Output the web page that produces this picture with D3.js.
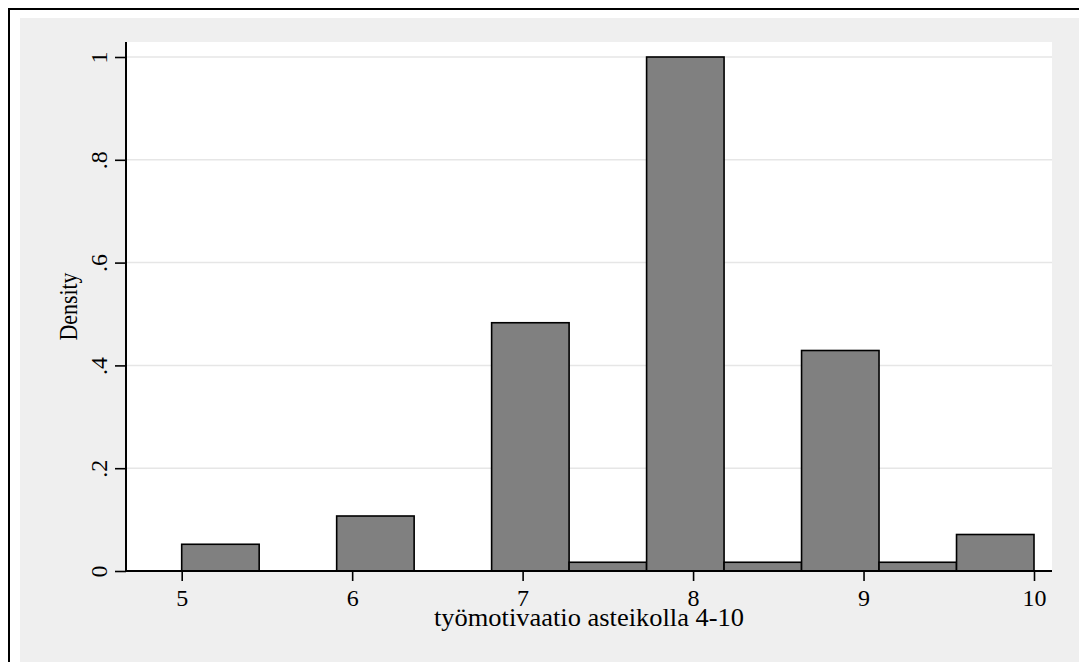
<!DOCTYPE html>
<html>
<head>
<meta charset="utf-8">
<script src="https://cdn.jsdelivr.net/npm/d3@7"></script>
<style>
  body { margin: 0; background: #fff; }
  text { font-family: "Liberation Serif", "DejaVu Serif", serif; fill: #000; }
</style>
</head>
<body>
<div class="chart"></div>
<script>
// histogram bins (lower edge, upper edge) and density per bin
var binLow  = [5, 5.4545, 5.9091, 6.3636, 6.8182, 7.2727, 7.7273, 8.1818, 8.6364, 9.0909, 9.5455];
var binHigh = [5.4545, 5.9091, 6.3636, 6.8182, 7.2727, 7.7273, 8.1818, 8.6364, 9.0909, 9.5455, 10];
var density = [0.052, 0, 0.107, 0, 0.483, 0.017, 1.0, 0.017, 0.429, 0.017, 0.071];

var xTicks = [5, 6, 7, 8, 9, 10];
var yTicks = [0, 0.2, 0.4, 0.6, 0.8, 1];
var xTitle = "työmotivaatio asteikolla 4-10";
var yTitle = "Density";

var W = 1079, H = 662;
var plot = { left: 126, right: 1052, top: 42, bottom: 571 };
var tickFont = 24, titleFont = 25;

var xScale = d3.scaleLinear().domain([5, 10]).range([181.7, 1034]);
var yScale = d3.scaleLinear().domain([0, 1]).range([plot.bottom, 57]);

var svg = d3.select(".chart").append("svg")
    .attr("width", W)
    .attr("height", H);

// outer frame (only left/top visible) and grey background
svg.append("rect").attr("x", 0).attr("y", 0).attr("width", W).attr("height", H).attr("fill", "#fff");
svg.append("rect").attr("x", 9).attr("y", 9).attr("width", W + 20).attr("height", H + 20)
    .attr("fill", "none").attr("stroke", "#000").attr("stroke-width", 2);
svg.append("rect").attr("x", 20).attr("y", 18).attr("width", W).attr("height", H).attr("fill", "#efefef");

// plot region
svg.append("rect")
    .attr("x", plot.left).attr("y", plot.top)
    .attr("width", plot.right - plot.left).attr("height", plot.bottom - plot.top)
    .attr("fill", "#fff");

// grid lines
svg.selectAll(".grid")
    .data(yTicks.filter(function(d) { return d > 0; }))
    .enter().append("line")
    .attr("class", "grid")
    .attr("x1", plot.left).attr("x2", plot.right)
    .attr("y1", function(d) { return yScale(d); })
    .attr("y2", function(d) { return yScale(d); })
    .attr("stroke", "#e6e6e6").attr("stroke-width", 1.5);

// bars
var bins = density.map(function(d, i) { return { lo: binLow[i], hi: binHigh[i], v: d }; });
svg.selectAll(".bar")
    .data(bins.filter(function(d) { return d.v > 0; }))
    .enter().append("rect")
    .attr("class", "bar")
    .attr("x", function(d) { return xScale(d.lo); })
    .attr("width", function(d) { return xScale(d.hi) - xScale(d.lo); })
    .attr("y", function(d) { return yScale(d.v); })
    .attr("height", function(d) { return yScale(0) - yScale(d.v); })
    .attr("fill", "#808080")
    .attr("stroke", "#000")
    .attr("stroke-width", 1.6);

// x axis
var xAxis = svg.append("g")
    .attr("transform", "translate(0," + plot.bottom + ")")
    .call(d3.axisBottom(xScale).tickValues(xTicks).tickSize(10).tickPadding(8).tickFormat(d3.format("d")));
xAxis.select(".domain").remove();
xAxis.selectAll("line").attr("stroke", "#000").attr("stroke-width", 1.6);
xAxis.selectAll("text").attr("font-size", tickFont).attr("dy", "0.71em");
svg.append("line")
    .attr("x1", plot.left).attr("x2", plot.right)
    .attr("y1", plot.bottom).attr("y2", plot.bottom)
    .attr("stroke", "#000").attr("stroke-width", 2);

// y axis
var yAxis = svg.append("g")
    .attr("transform", "translate(" + plot.left + ",0)")
    .call(d3.axisLeft(yScale).tickValues(yTicks).tickSize(11)
        .tickFormat(function(d) { return d === 0 || d === 1 ? String(d) : String(d).replace("0.", "."); }));
yAxis.select(".domain").remove();
yAxis.selectAll("line").attr("stroke", "#000").attr("stroke-width", 1.6);
yAxis.selectAll("text")
    .attr("font-size", tickFont)
    .attr("x", null).attr("dy", null)
    .attr("text-anchor", "middle")
    .attr("transform", "translate(-19,0) rotate(-90)");
svg.append("line")
    .attr("x1", plot.left).attr("x2", plot.left)
    .attr("y1", plot.top).attr("y2", plot.bottom)
    .attr("stroke", "#000").attr("stroke-width", 2);

// axis titles
svg.append("text")
    .attr("x", (plot.left + plot.right) / 2)
    .attr("y", 626)
    .attr("text-anchor", "middle")
    .attr("font-size", titleFont)
    .attr("textLength", 310)
    .attr("lengthAdjust", "spacingAndGlyphs")
    .text(xTitle);

svg.append("text")
    .attr("transform", "translate(77," + (plot.top + plot.bottom) / 2 + ") rotate(-90)")
    .attr("text-anchor", "middle")
    .attr("font-size", titleFont)
    .attr("textLength", 68)
    .attr("lengthAdjust", "spacingAndGlyphs")
    .text(yTitle);
</script>
</body>
</html>
